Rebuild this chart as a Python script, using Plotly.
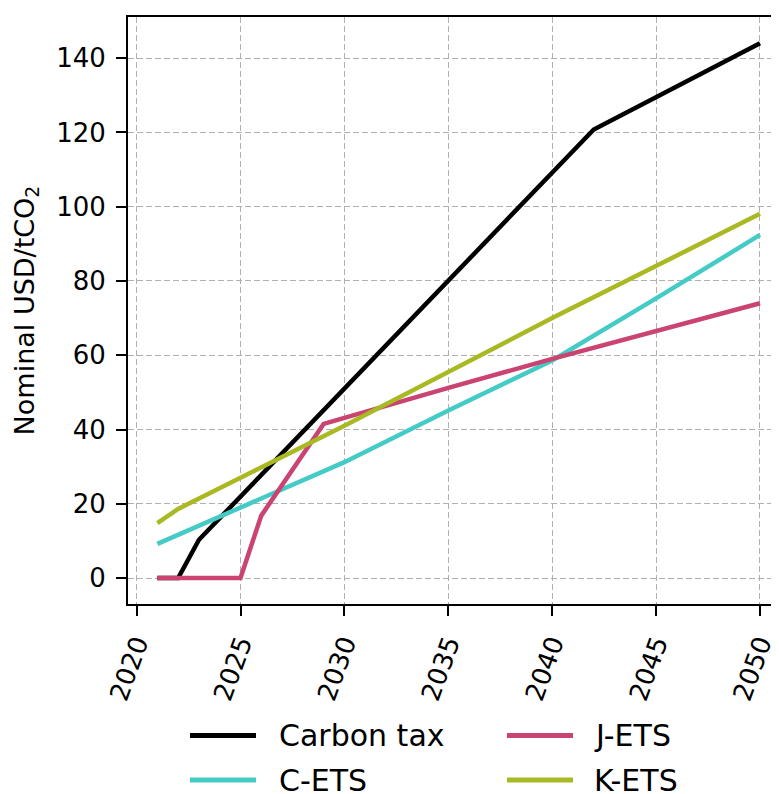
import plotly.graph_objects as go

# ---- data ----
tax_years = [2021, 2022, 2023, 2042, 2050]
tax_values = [0.0, 0.0, 10.3, 120.8, 144.0]

cets_years = [2021, 2025, 2030, 2035, 2040, 2045, 2050]
cets_values = [9.2, 19.0, 31.2, 45.1, 58.6, 75.3, 92.4]

jets_years = [2021, 2025, 2026, 2029, 2035, 2040, 2050]
jets_values = [0.0, 0.0, 16.8, 41.5, 51.2, 59.0, 74.0]

kets_years = [2021, 2022, 2030, 2040, 2050]
kets_values = [14.8, 18.6, 41.0, 70.0, 98.1]

x_ticks = [2020, 2025, 2030, 2035, 2040, 2045, 2050]
y_ticks = [0, 20, 40, 60, 80, 100, 120, 140]

series = [
    ("Carbon tax", tax_years, tax_values, "#000000"),
    ("C-ETS", cets_years, cets_values, "#45CBC6"),
    ("J-ETS", jets_years, jets_values, "#CB4471"),
    ("K-ETS", kets_years, kets_values, "#A9B923"),
]

FONT = "DejaVu Sans"
OFF = 8  # default page (body) margin of the html page
W, H = 779 - OFF, 794 - OFF
ML, MR, MT = 128 - OFF, 0, 17 - OFF
MB = H - (604 - OFF)

fig = go.Figure()
for name, xs, ys, col in series:
    fig.add_trace(go.Scatter(x=xs, y=ys, mode="lines", name=name,
                             line=dict(color=col, width=4.5),
                             showlegend=False))

grid = dict(showgrid=True, gridcolor="#b0b0b0", gridwidth=1, griddash="6px,3px")

fig.update_layout(
    width=W, height=H,
    margin=dict(l=ML, r=MR, t=MT, b=MB, pad=0, autoexpand=False),
    paper_bgcolor="white", plot_bgcolor="white",
    font=dict(family=FONT, color="black"),
    xaxis=dict(range=[2019.586, 2050.915], tickvals=x_ticks,
               ticktext=[str(v) for v in x_ticks], automargin=False,
               tickangle=-70, ticks="outside", ticklen=10, tickwidth=2,
               tickcolor="black", showline=True, linewidth=2, linecolor="black",
               mirror=True, zeroline=False, tickfont=dict(size=26, family=FONT),
               ticklabelstandoff=2,
               **grid),
    yaxis=dict(range=[-7.0, 151.1], tickvals=y_ticks, automargin=False,
               ticks="outside", ticklen=10, tickwidth=2, tickcolor="black",
               showline=True, linewidth=2, linecolor="black", zeroline=False,
               tickfont=dict(size=26, family=FONT), ticklabelstandoff=5,
               title=dict(text="Nominal USD/tCO<sub>2</sub>",
                          font=dict(size=27, family=FONT), standoff=14),
               **grid),
)

# ---- legend drawn below the axes (2 columns, column-major order) ----
pw = W - ML - MR
ph = H - MT - MB

def px_x(p):
    return (p - OFF - ML) / pw

def px_y(p):
    return (H - MB - (p - OFF)) / ph

col_line_x = [(190, 256), (507, 573)]
col_text_x = [277, 592]
row_y = [735.5, 780.0]
for i, (name, xs, ys, col) in enumerate(series):
    c, r = divmod(i, 2)
    x0, x1 = col_line_x[c]
    fig.add_shape(type="line", xref="paper", yref="paper",
                  x0=px_x(x0), x1=px_x(x1), y0=px_y(row_y[r]), y1=px_y(row_y[r]),
                  line=dict(color=col, width=5))
    fig.add_annotation(xref="paper", yref="paper", x=px_x(col_text_x[c]),
                       y=px_y(row_y[r]), text=name, showarrow=False,
                       xanchor="left", yanchor="middle",
                       font=dict(size=30, family=FONT, color="black"))

fig.write_html("out.html")
